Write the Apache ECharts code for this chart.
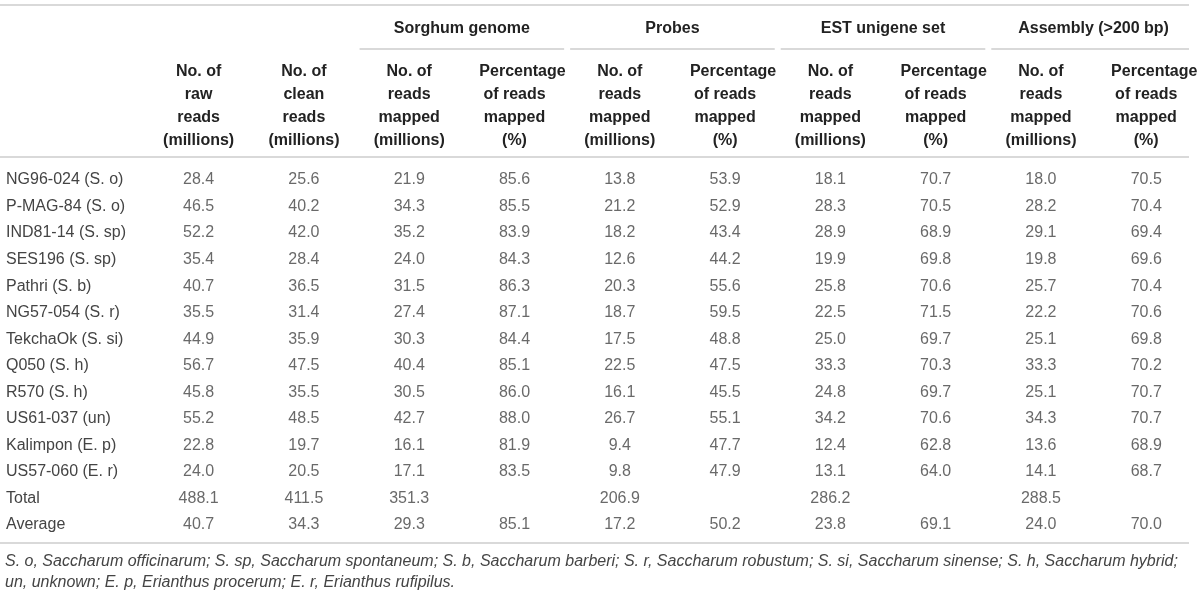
<!DOCTYPE html>
<html>
<head>
<meta charset="utf-8">
<script src="https://cdn.jsdelivr.net/npm/echarts@6/dist/echarts.min.js"></script>
<style>html,body{margin:0;padding:0;background:#fff}#c{width:1200px;height:595px}</style>
</head>
<body>
<div id="c"></div>
<script>
// ---- data ----
const rowNames = ['NG96-024 (S. o)', 'P-MAG-84 (S. o)', 'IND81-14 (S. sp)', 'SES196 (S. sp)', 'Pathri (S. b)',
  'NG57-054 (S. r)', 'TekchaOk (S. si)', 'Q050 (S. h)', 'R570 (S. h)', 'US61-037 (un)', 'Kalimpon (E. p)',
  'US57-060 (E. r)', 'Total', 'Average'];
const colHeaders = [
  'No. of\nraw\nreads\n(millions)', 'No. of\nclean\nreads\n(millions)',
  'No. of\nreads\nmapped\n(millions)', 'Percentage\nof reads\nmapped\n(%)',
  'No. of\nreads\nmapped\n(millions)', 'Percentage\nof reads\nmapped\n(%)',
  'No. of\nreads\nmapped\n(millions)', 'Percentage\nof reads\nmapped\n(%)',
  'No. of\nreads\nmapped\n(millions)', 'Percentage\nof reads\nmapped\n(%)'];
const groupNames = ['', 'Sorghum genome', 'Probes', 'EST unigene set', 'Assembly (>200 bp)'];
const rawReads      = [28.4, 46.5, 52.2, 35.4, 40.7, 35.5, 44.9, 56.7, 45.8, 55.2, 22.8, 24.0, 488.1, 40.7];
const cleanReads    = [25.6, 40.2, 42.0, 28.4, 36.5, 31.4, 35.9, 47.5, 35.5, 48.5, 19.7, 20.5, 411.5, 34.3];
const sorghumMapped = [21.9, 34.3, 35.2, 24.0, 31.5, 27.4, 30.3, 40.4, 30.5, 42.7, 16.1, 17.1, 351.3, 29.3];
const sorghumPct    = [85.6, 85.5, 83.9, 84.3, 86.3, 87.1, 84.4, 85.1, 86.0, 88.0, 81.9, 83.5, null, 85.1];
const probesMapped  = [13.8, 21.2, 18.2, 12.6, 20.3, 18.7, 17.5, 22.5, 16.1, 26.7, 9.4, 9.8, 206.9, 17.2];
const probesPct     = [53.9, 52.9, 43.4, 44.2, 55.6, 59.5, 48.8, 47.5, 45.5, 55.1, 47.7, 47.9, null, 50.2];
const estMapped     = [18.1, 28.3, 28.9, 19.9, 25.8, 22.5, 25.0, 33.3, 24.8, 34.2, 12.4, 13.1, 286.2, 23.8];
const estPct        = [70.7, 70.5, 68.9, 69.8, 70.6, 71.5, 69.7, 70.3, 69.7, 70.6, 62.8, 64.0, null, 69.1];
const asmMapped     = [18.0, 28.2, 29.1, 19.8, 25.7, 22.2, 25.1, 33.3, 25.1, 34.3, 13.6, 14.1, 288.5, 24.0];
const asmPct        = [70.5, 70.4, 69.4, 69.6, 70.4, 70.6, 69.8, 70.2, 70.7, 70.7, 68.9, 68.7, null, 70.0];
const footnoteLines = [
  'S. o, Saccharum officinarum; S. sp, Saccharum spontaneum; S. b, Saccharum barberi; S. r, Saccharum robustum; S. si, Saccharum sinense; S. h, Saccharum hybrid;',
  'un, unknown; E. p, Erianthus procerum; E. r, Erianthus rufipilus.'];

// ---- build ----
const columns = [rawReads, cleanReads, sorghumMapped, sorghumPct, probesMapped, probesPct, estMapped, estPct, asmMapped, asmPct];
const cells = [];
columns.forEach((arr, j) => arr.forEach((v, i) => { if (v !== null) cells.push([j, i, v]); }));
const groupMarks = groupNames.map((g, k) => [k, 0]).filter(d => groupNames[d[0]] !== '');

const FONT = '"Liberation Sans", Arial, Helvetica, sans-serif';
const RULE = '#d9d9d9';
const TABLE_RIGHT = 1189;
const gridLeft = 146, gridWidth = 1060, gridTop = 180, gridHeight = 345;
const headStyle = { fontSize: 16, fontWeight: 'bold', color: '#222', lineHeight: 22.7, fontFamily: FONT };

const chart = echarts.init(document.getElementById('c'), null, { renderer: 'canvas' });
chart.setOption({
  animation: false,
  backgroundColor: '#ffffff',
  textStyle: { fontFamily: FONT },
  title: {
    text: footnoteLines.join('\n'), left: 5, top: 551, padding: 0,
    textStyle: { fontSize: 16, fontStyle: 'italic', fontWeight: 'normal', color: '#444', lineHeight: 21, fontFamily: FONT }
  },
  grid: { left: gridLeft, top: gridTop, width: gridWidth, height: gridHeight },
  xAxis: [
    { type: 'category', position: 'top', data: colHeaders,
      axisLine: { show: false }, axisTick: { show: false }, splitLine: { show: false },
      axisLabel: Object.assign({ interval: 0, margin: 28.5,
        formatter: v => v.split('\n').map(s => s === 'Percentage' ? '{w|' + s + '}' : '{n|' + s + '}').join('\n'),
        rich: { n: Object.assign({}, headStyle), w: Object.assign({ padding: [0, 0, 0, 16] }, headStyle) } }, headStyle) },
    { type: 'category', position: 'top', data: groupNames,
      axisLine: { show: false }, axisTick: { show: false }, splitLine: { show: false },
      axisLabel: { interval: 0, margin: 143.5, fontSize: 16, fontWeight: 'bold', color: '#222', fontFamily: FONT } }
  ],
  yAxis: { type: 'category', inverse: true, boundaryGap: false, data: rowNames,
    axisLine: { show: false }, axisTick: { show: false }, splitLine: { show: false },
    axisLabel: { interval: 0, align: 'left', margin: gridLeft - 6, fontSize: 16, color: '#444', fontFamily: FONT } },
  series: [
    { type: 'scatter', xAxisIndex: 0, yAxisIndex: 0, data: cells, symbolSize: 1, silent: true,
      itemStyle: { color: 'rgba(0,0,0,0)' },
      label: { show: true, position: 'inside', formatter: p => p.value[2].toFixed(1), fontSize: 16, color: '#444', fontFamily: FONT } },
    { type: 'custom', xAxisIndex: 1, yAxisIndex: 0, data: groupMarks, silent: true,
      renderItem: (params, api) => {
        const p = api.coord([api.value(0), api.value(1)]);
        const w = api.size([1, 0])[0];
        const y = params.coordSys.y - 131;
        return { type: 'line',
                 shape: { x1: p[0] - w / 2 + 3, y1: y, x2: Math.min(p[0] + w / 2 - 3, TABLE_RIGHT), y2: y },
                 style: { stroke: RULE, lineWidth: 2 } };
      } }
  ],
  graphic: [
    { type: 'line', shape: { x1: 0, y1: 5, x2: TABLE_RIGHT, y2: 5 }, style: { stroke: RULE, lineWidth: 2 }, silent: true },
    { type: 'line', shape: { x1: 0, y1: 157, x2: TABLE_RIGHT, y2: 157 }, style: { stroke: RULE, lineWidth: 2 }, silent: true },
    { type: 'line', shape: { x1: 0, y1: 543, x2: TABLE_RIGHT, y2: 543 }, style: { stroke: RULE, lineWidth: 2 }, silent: true }
  ]
});
</script>
</body>
</html>
